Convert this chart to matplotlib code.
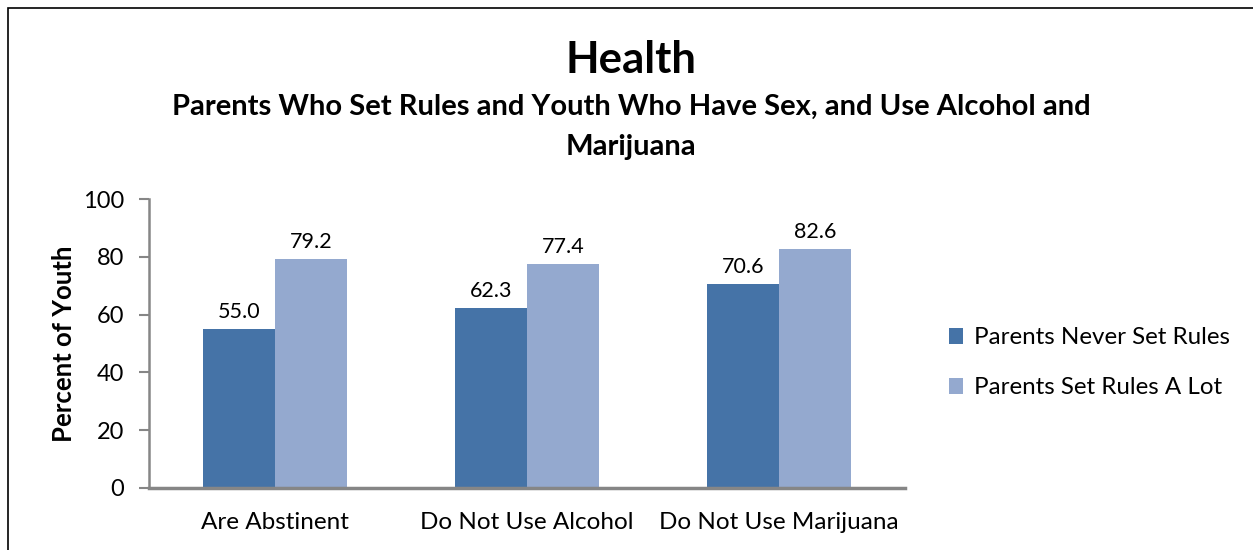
import numpy as np
import matplotlib.pyplot as plt
from matplotlib.patches import Rectangle

plt.rcParams['font.family'] = ['Lato', 'DejaVu Sans']

categories = ['Are Abstinent', 'Do Not Use Alcohol', 'Do Not Use Marijuana']
never_rules = [55.0, 62.3, 70.6]
rules_a_lot = [79.2, 77.4, 82.6]
series_names = ['Parents Never Set Rules', 'Parents Set Rules A Lot']
yticks = [0, 20, 40, 60, 80, 100]

dark = '#4573a7'
light = '#94a9cf'
axis_gray = '#868686'

fig = plt.figure(figsize=(12.53, 5.5), dpi=100)
fig.patches.append(Rectangle((8 / 1253, -0.1), 1.2, 1 - 8 / 550 + 0.1, transform=fig.transFigure,
                             fill=False, edgecolor='black', linewidth=1.2))

ax = fig.add_axes([149 / 1253, 62 / 550, 756 / 1253, 289 / 550])
x = np.arange(len(categories))
w = 0.2857
b1 = ax.bar(x - w / 2, never_rules, w, color=dark, label=series_names[0])
b2 = ax.bar(x + w / 2, rules_a_lot, w, color=light, label=series_names[1])

for bars, vals in [(b1, never_rules), (b2, rules_a_lot)]:
    for r, v in zip(bars, vals):
        ax.annotate(f'{v:.1f}', (r.get_x() + r.get_width() / 2, v), xytext=(0, 5),
                    textcoords='offset points', ha='center', va='bottom', fontsize=15.5)

ax.set_xlim(-0.5, 2.5)
ax.set_ylim(0, 100)
ax.set_yticks(yticks)
ax.set_xticks(x)
ax.set_xticklabels(categories, fontsize=17.5)
ax.tick_params(axis='y', labelsize=17, length=7, width=1.5, color=axis_gray, direction='out', pad=11)
ax.tick_params(axis='x', length=0, pad=17)
for s in ['top', 'right']:
    ax.spines[s].set_visible(False)
ax.spines['left'].set_color(axis_gray)
ax.spines['left'].set_linewidth(1.8)
ax.spines['bottom'].set_color(axis_gray)
ax.spines['bottom'].set_linewidth(2.5)
ax.set_ylabel('Percent of Youth', fontsize=18.5, fontweight='bold', labelpad=5)

fig.text(631 / 1253, 1 - 60 / 550, 'Health', ha='center', va='center', fontsize=31.5, fontweight='bold')
fig.text(631 / 1253, 1 - 107 / 550, 'Parents Who Set Rules and Youth Who Have Sex, and Use Alcohol and',
         ha='center', va='center', fontsize=21, fontweight='bold')
fig.text(631 / 1253, 1 - 147 / 550, 'Marijuana', ha='center', va='center', fontsize=21, fontweight='bold')

fig.legend(handles=[b1, b2], labels=series_names, loc='center left',
           bbox_to_anchor=(927 / 1253, 1 - 363 / 550), frameon=False, fontsize=17.4,
           handlelength=0.6, handleheight=0.6, handletextpad=0.45, labelspacing=1.2)

fig.savefig('out.png', dpi=100)
